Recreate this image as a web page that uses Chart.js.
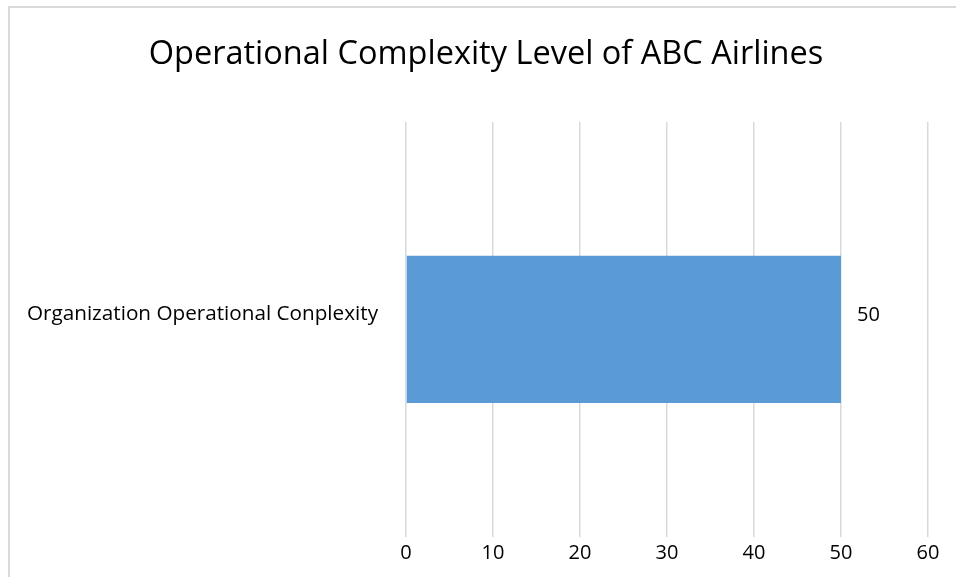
<!DOCTYPE html>
<html>
<head>
<meta charset="utf-8">
<script src="https://cdn.jsdelivr.net/npm/chart.js@4.4.1/dist/chart.umd.min.js"></script>
<style>
  html, body { margin: 0; padding: 0; background: #ffffff; overflow: hidden; }
  #wrap { position: relative; width: 956px; height: 577px; }
  #frame { position: absolute; left: 8px; top: 6px; width: 1000px; height: 700px;
           border-top: 2px solid #d9d9d9; border-left: 2px solid #d9d9d9; box-sizing: border-box; }
  canvas { position: absolute; left: 0; top: 0; }
</style>
</head>
<body>
<div id="wrap">
  <div id="frame"></div>
  <canvas id="c" width="956" height="577"></canvas>
</div>
<script>
const chartTitle = "Operational Complexity Level of ABC Airlines";
const categories = ["Organization Operational Conplexity"];
const values = [50];
const tickValues = [0, 10, 20, 30, 40, 50, 60];

const FONT = "'Open Sans', 'Noto Sans', sans-serif";

const titlePlugin = {
  id: 'customTitle',
  afterDraw(chart) {
    const ctx = chart.ctx;
    ctx.save();
    ctx.font = "32.5px " + FONT;
    ctx.fillStyle = "#000000";
    ctx.textAlign = "center";
    ctx.textBaseline = "middle";
    ctx.fillText(chartTitle, 486, 55);
    ctx.restore();
  }
};

const labelPlugin = {
  id: 'valueLabels',
  afterDatasetsDraw(chart) {
    const ctx = chart.ctx;
    const meta = chart.getDatasetMeta(0);
    ctx.save();
    ctx.font = "20px " + FONT;
    ctx.fillStyle = "#000000";
    ctx.textAlign = "left";
    ctx.textBaseline = "middle";
    meta.data.forEach((bar, i) => {
      ctx.fillText(String(values[i]), bar.x + 16, bar.y - 14);
    });
    ctx.restore();
  }
};

new Chart(document.getElementById('c'), {
  type: 'bar',
  data: {
    labels: categories,
    datasets: [{
      data: values,
      backgroundColor: '#5b9bd5',
      borderWidth: 0,
      barPercentage: 1,
      categoryPercentage: 0.355
    }]
  },
  options: {
    indexAxis: 'y',
    responsive: false,
    animation: false,
    devicePixelRatio: 1,
    layout: { padding: { left: 16, right: 28, top: 122, bottom: 0 } },
    plugins: {
      legend: { display: false },
      title: { display: false },
      tooltip: { enabled: false }
    },
    scales: {
      x: {
        min: 0,
        max: 60,
        afterBuildTicks(scale) { scale.ticks = tickValues.map(v => ({ value: v })); },
        afterFit(scale) { scale.height = 39; },
        grid: { color: '#d9d9d9', lineWidth: 1.5, drawTicks: false },
        border: { display: false },
        ticks: { padding: 5, color: '#000000', font: { family: FONT, size: 20 } }
      },
      y: {
        afterFit(scale) { scale.width = 390; },
        grid: { display: false, drawTicks: false },
        border: { display: false },
        ticks: { padding: 28, labelOffset: -15, color: '#000000', font: { family: FONT, size: 20.7 } }
      }
    }
  },
  plugins: [titlePlugin, labelPlugin]
});
</script>
</body>
</html>
